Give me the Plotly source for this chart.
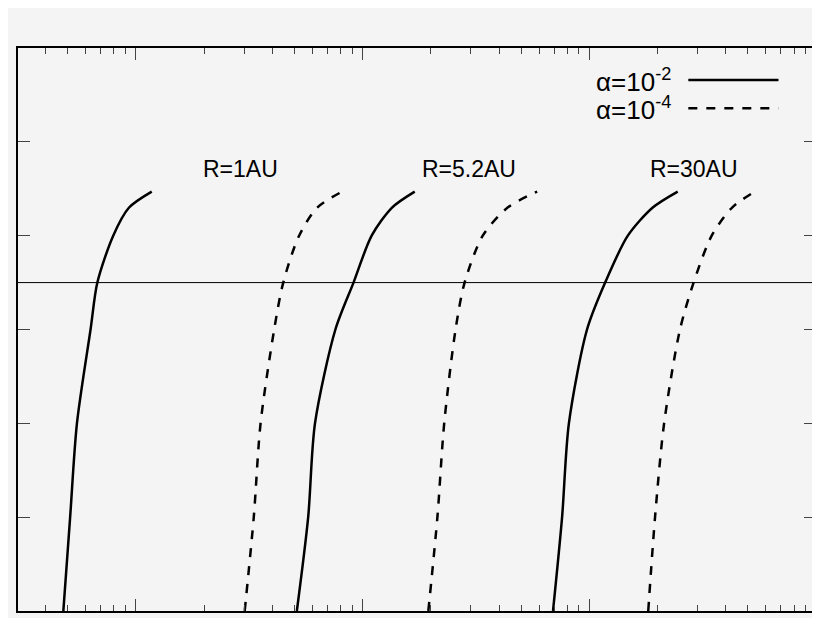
import plotly.graph_objects as go

y_vals = [0, 1, 2, 3, 3.5, 4, 4.3, 4.47]
solid_1au = [-0.32, -0.29, -0.26, -0.20, -0.17, -0.10, -0.03, 0.07]
dashed_1au = [0.48, 0.52, 0.55, 0.61, 0.65, 0.72, 0.80, 0.91]
solid_52au = [0.71, 0.76, 0.79, 0.88, 0.96, 1.04, 1.13, 1.23]
dashed_52au = [1.29, 1.33, 1.36, 1.41, 1.45, 1.53, 1.64, 1.77]
solid_30au = [1.84, 1.88, 1.91, 1.99, 2.07, 2.17, 2.28, 2.39]
dashed_30au = [2.26, 2.29, 2.33, 2.40, 2.46, 2.54, 2.63, 2.73]
labels = ["R=1AU", "R=5.2AU", "R=30AU"]
label_x = [0.46, 1.47, 2.46]
label_y = 4.71
hline_y = 3.5

fig = go.Figure()
for xs, dash in [(solid_1au, "solid"), (dashed_1au, "dash"), (solid_52au, "solid"),
                 (dashed_52au, "dash"), (solid_30au, "solid"), (dashed_30au, "dash")]:
    fig.add_trace(go.Scatter(x=[10**v for v in xs], y=y_vals, mode="lines",
                             line=dict(color="black", width=2.5, dash=dash, shape="spline",
                                       smoothing=0.8),
                             showlegend=False))

fig.add_trace(go.Scatter(x=[10**-0.52, 10**3], y=[hline_y, hline_y], mode="lines",
                         line=dict(color="black", width=1), showlegend=False))

font = dict(family="Liberation Sans, Arial", size=23, color="black")
for t, xv in zip(labels, label_x):
    fig.add_annotation(x=xv, y=label_y, text=t, showarrow=False, font=font)

lfont = dict(family="Liberation Sans, Arial", size=26, color="black")
for txt, yp, dash in [("α=10<sup>-2</sup>", 0.943, "solid"), ("α=10<sup>-4</sup>", 0.893, "dash")]:
    fig.add_annotation(x=0.821, y=yp, xref="paper", yref="paper", text=txt, showarrow=False,
                       xanchor="right", yanchor="middle", font=lfont)
    fig.add_shape(type="line", xref="paper", yref="paper", x0=0.84, x1=0.953, y0=yp, y1=yp,
                  line=dict(color="black", width=2.5, dash=dash))

fig.update_xaxes(type="log", range=[-0.52, 3.0], showgrid=False, showticklabels=False,
                 ticks="inside", ticklen=12, tickvals=[1, 10, 100, 1000], mirror="allticks",
                 showline=True, linecolor="black", linewidth=1.5, zeroline=False, automargin=False,
                 minor=dict(ticks="inside", ticklen=6, dtick="D1", showgrid=False))
fig.update_yaxes(range=[0, 6], showgrid=False, showticklabels=False, ticks="inside",
                 ticklen=12, dtick=1, mirror="allticks", showline=True, linecolor="black",
                 linewidth=1.5, zeroline=False, automargin=False)
fig.update_layout(width=820, height=618, margin=dict(l=10, r=12, t=40, b=15, autoexpand=False),
                  paper_bgcolor="#f4f4f4", plot_bgcolor="#f4f4f4")
fig.write_html("out.html")
